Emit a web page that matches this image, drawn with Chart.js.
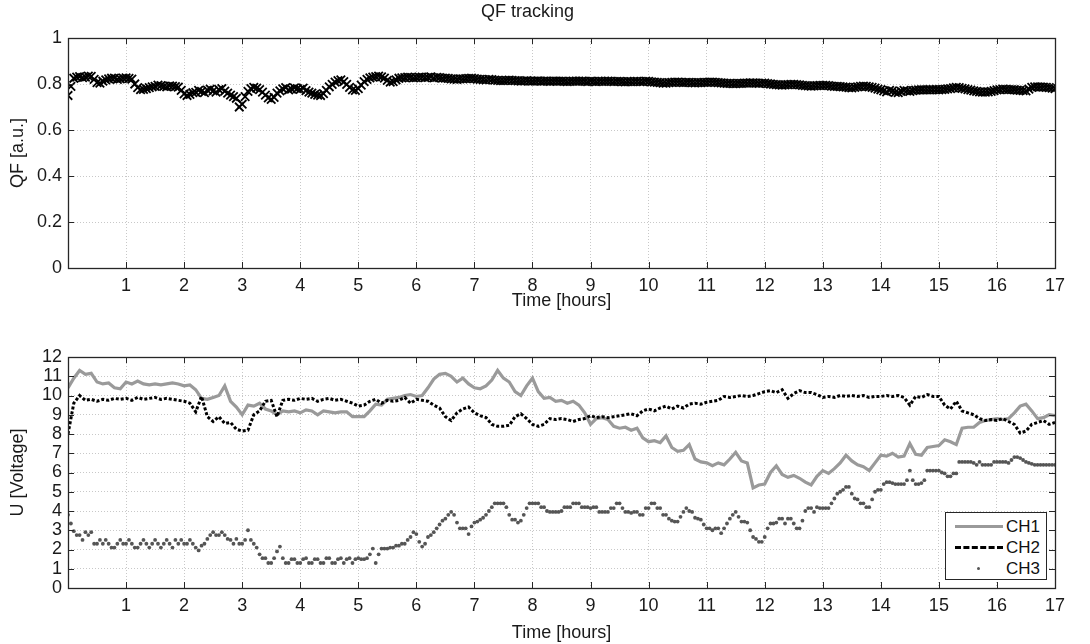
<!DOCTYPE html>
<html>
<head>
<meta charset="utf-8">
<script src="https://cdn.jsdelivr.net/npm/chart.js@4"></script>
<style>
  html, body { margin:0; padding:0; background:#ffffff; }
  body { width:1090px; height:644px; position:relative; overflow:hidden; font-family:"Liberation Sans", Arial, sans-serif; }
  #c1 { position:absolute; left:0; top:0; }
  #c2 { position:absolute; left:0; top:310px; }
  #legend { position:absolute; left:945px; top:512px; width:102px; height:68px; background:#fff; border:1px solid #262626; box-sizing:border-box; font-size:17px; color:#111; }
  .row { position:absolute; left:0; width:100%; height:21px; }
  .lab { position:absolute; right:6px; top:1px; line-height:19px; }
  .s1 { position:absolute; left:9px; width:48px; top:9px; border-top:3px solid #9a9a9a; }
  .s2 { position:absolute; left:9px; width:48px; top:9px; border-top:3px dashed #000000; }
  .s3 { position:absolute; left:31px; width:3px; height:3px; top:9px; border-radius:50%; background:#555555; }
</style>
</head>
<body>
<canvas id="c1" width="1090" height="314"></canvas>
<canvas id="c2" width="1090" height="334"></canvas>
<div id="legend">
  <div class="row" style="top:3px"><div class="s1"></div><span class="lab">CH1</span></div>
  <div class="row" style="top:24px"><div class="s2"></div><span class="lab">CH2</span></div>
  <div class="row" style="top:45px"><div class="s3"></div><span class="lab">CH3</span></div>
</div>
<script>
// ---- data ----
// sample times, 0.1 h grid (CH1, CH2)
const timeHours = [
 0,0.1,0.2,0.3,0.4,0.5,0.6,0.7,0.8,0.9,
 1,1.1,1.2,1.3,1.4,1.5,1.6,1.7,1.8,1.9,
 2,2.1,2.2,2.3,2.4,2.5,2.6,2.7,2.8,2.9,
 3,3.1,3.2,3.3,3.4,3.5,3.6,3.7,3.8,3.9,
 4,4.1,4.2,4.3,4.4,4.5,4.6,4.7,4.8,4.9,
 5,5.1,5.2,5.3,5.4,5.5,5.6,5.7,5.8,5.9,
 6,6.1,6.2,6.3,6.4,6.5,6.6,6.7,6.8,6.9,
 7,7.1,7.2,7.3,7.4,7.5,7.6,7.7,7.8,7.9,
 8,8.1,8.2,8.3,8.4,8.5,8.6,8.7,8.8,8.9,
 9,9.1,9.2,9.3,9.4,9.5,9.6,9.7,9.8,9.9,
 10,10.1,10.2,10.3,10.4,10.5,10.6,10.7,10.8,10.9,
 11,11.1,11.2,11.3,11.4,11.5,11.6,11.7,11.8,11.9,
 12,12.1,12.2,12.3,12.4,12.5,12.6,12.7,12.8,12.9,
 13,13.1,13.2,13.3,13.4,13.5,13.6,13.7,13.8,13.9,
 14,14.1,14.2,14.3,14.4,14.5,14.6,14.7,14.8,14.9,
 15,15.1,15.2,15.3,15.4,15.5,15.6,15.7,15.8,15.9,
 16,16.1,16.2,16.3,16.4,16.5,16.6,16.7,16.8,16.9,
 17
];

// sample times, 0.05 h grid (QF, CH3 markers)
const timeFine = [
 0,0.05,0.1,0.15,0.2,0.25,0.3,0.35,0.4,0.45,0.5,0.55,0.6,0.65,0.7,0.75,0.8,0.85,0.9,0.95,
 1,1.05,1.1,1.15,1.2,1.25,1.3,1.35,1.4,1.45,1.5,1.55,1.6,1.65,1.7,1.75,1.8,1.85,1.9,1.95,
 2,2.05,2.1,2.15,2.2,2.25,2.3,2.35,2.4,2.45,2.5,2.55,2.6,2.65,2.7,2.75,2.8,2.85,2.9,2.95,
 3,3.05,3.1,3.15,3.2,3.25,3.3,3.35,3.4,3.45,3.5,3.55,3.6,3.65,3.7,3.75,3.8,3.85,3.9,3.95,
 4,4.05,4.1,4.15,4.2,4.25,4.3,4.35,4.4,4.45,4.5,4.55,4.6,4.65,4.7,4.75,4.8,4.85,4.9,4.95,
 5,5.05,5.1,5.15,5.2,5.25,5.3,5.35,5.4,5.45,5.5,5.55,5.6,5.65,5.7,5.75,5.8,5.85,5.9,5.95,
 6,6.05,6.1,6.15,6.2,6.25,6.3,6.35,6.4,6.45,6.5,6.55,6.6,6.65,6.7,6.75,6.8,6.85,6.9,6.95,
 7,7.05,7.1,7.15,7.2,7.25,7.3,7.35,7.4,7.45,7.5,7.55,7.6,7.65,7.7,7.75,7.8,7.85,7.9,7.95,
 8,8.05,8.1,8.15,8.2,8.25,8.3,8.35,8.4,8.45,8.5,8.55,8.6,8.65,8.7,8.75,8.8,8.85,8.9,8.95,
 9,9.05,9.1,9.15,9.2,9.25,9.3,9.35,9.4,9.45,9.5,9.55,9.6,9.65,9.7,9.75,9.8,9.85,9.9,9.95,
 10,10.05,10.1,10.15,10.2,10.25,10.3,10.35,10.4,10.45,10.5,10.55,10.6,10.65,10.7,10.75,10.8,10.85,10.9,10.95,
 11,11.05,11.1,11.15,11.2,11.25,11.3,11.35,11.4,11.45,11.5,11.55,11.6,11.65,11.7,11.75,11.8,11.85,11.9,11.95,
 12,12.05,12.1,12.15,12.2,12.25,12.3,12.35,12.4,12.45,12.5,12.55,12.6,12.65,12.7,12.75,12.8,12.85,12.9,12.95,
 13,13.05,13.1,13.15,13.2,13.25,13.3,13.35,13.4,13.45,13.5,13.55,13.6,13.65,13.7,13.75,13.8,13.85,13.9,13.95,
 14,14.05,14.1,14.15,14.2,14.25,14.3,14.35,14.4,14.45,14.5,14.55,14.6,14.65,14.7,14.75,14.8,14.85,14.9,14.95,
 15,15.05,15.1,15.15,15.2,15.25,15.3,15.35,15.4,15.45,15.5,15.55,15.6,15.65,15.7,15.75,15.8,15.85,15.9,15.95,
 16,16.05,16.1,16.15,16.2,16.25,16.3,16.35,16.4,16.45,16.5,16.55,16.6,16.65,16.7,16.75,16.8,16.85,16.9,16.95,
 17
];

const qfValues = [
 0.750,0.790,0.825,0.830,0.832,0.828,0.830,0.834,0.833,0.820,0.806,0.804,0.812,0.818,0.822,0.825,0.826,0.820,0.822,0.826,
 0.827,0.824,0.821,0.800,0.784,0.776,0.777,0.780,0.784,0.788,0.790,0.795,0.793,0.790,0.788,0.792,0.791,0.789,0.786,0.772,
 0.757,0.750,0.755,0.762,0.764,0.772,0.768,0.762,0.773,0.778,0.770,0.765,0.776,0.780,0.769,0.760,0.752,0.745,0.738,0.700,
 0.712,0.745,0.768,0.780,0.785,0.782,0.776,0.765,0.752,0.740,0.733,0.742,0.760,0.770,0.779,0.784,0.774,0.778,0.783,0.780,
 0.777,0.782,0.771,0.765,0.760,0.755,0.752,0.750,0.758,0.772,0.788,0.798,0.808,0.815,0.818,0.810,0.798,0.785,0.774,0.772,
 0.780,0.795,0.810,0.820,0.827,0.830,0.832,0.834,0.831,0.826,0.816,0.808,0.810,0.818,0.825,0.827,0.828,0.830,0.829,0.827,
 0.828,0.830,0.830,0.828,0.829,0.831,0.827,0.829,0.828,0.826,0.826,0.824,0.822,0.821,0.820,0.822,0.822,0.823,0.824,0.825,
 0.823,0.821,0.820,0.819,0.818,0.820,0.819,0.817,0.816,0.815,0.815,0.816,0.817,0.816,0.815,0.814,0.813,0.814,0.815,0.813,
 0.812,0.813,0.814,0.812,0.813,0.812,0.811,0.812,0.813,0.812,0.812,0.811,0.810,0.811,0.812,0.813,0.813,0.812,0.811,0.810,
 0.812,0.811,0.810,0.811,0.811,0.812,0.812,0.811,0.810,0.811,0.811,0.810,0.809,0.810,0.810,0.811,0.811,0.810,0.810,0.812,
 0.811,0.809,0.808,0.807,0.806,0.804,0.804,0.806,0.807,0.808,0.808,0.807,0.806,0.807,0.807,0.806,0.805,0.806,0.806,0.807,
 0.807,0.808,0.808,0.807,0.806,0.805,0.804,0.803,0.803,0.802,0.802,0.803,0.803,0.804,0.804,0.805,0.805,0.804,0.803,0.804,
 0.804,0.802,0.800,0.798,0.797,0.796,0.795,0.796,0.797,0.798,0.798,0.797,0.796,0.794,0.793,0.792,0.791,0.792,0.793,0.794,
 0.794,0.794,0.793,0.791,0.790,0.790,0.789,0.787,0.786,0.784,0.783,0.785,0.788,0.790,0.791,0.790,0.788,0.785,0.782,0.778,
 0.775,0.770,0.766,0.772,0.770,0.764,0.762,0.768,0.772,0.770,0.768,0.771,0.773,0.774,0.775,0.774,0.774,0.775,0.776,0.776,
 0.775,0.776,0.777,0.779,0.780,0.783,0.785,0.784,0.781,0.779,0.776,0.773,0.770,0.768,0.766,0.765,0.765,0.766,0.768,0.771,
 0.774,0.776,0.778,0.777,0.776,0.776,0.775,0.773,0.772,0.771,0.770,0.778,0.785,0.788,0.788,0.787,0.786,0.785,0.784,0.782,
 0.780
];

const ch1Values = [
 10.4,10.9,11.3,11.1,11.15,10.7,10.6,10.65,10.4,10.35,
 10.7,10.6,10.75,10.6,10.55,10.6,10.55,10.6,10.65,10.6,
 10.5,10.55,10.3,9.85,9.8,9.9,10.0,10.5,9.7,9.4,
 9.0,9.5,9.45,9.6,9.3,9.2,9.0,9.2,9.15,9.2,
 9.1,9.25,9.2,9.0,9.2,9.15,9.1,9.15,9.15,8.9,
 8.9,8.9,9.2,9.55,9.5,9.8,9.85,9.9,10.0,10.05,
 9.95,10.0,10.4,10.85,11.1,11.15,11.0,10.7,10.9,10.6,
 10.4,10.35,10.5,10.8,11.3,10.9,10.7,10.2,10.0,10.5,
 10.9,10.2,9.85,9.9,9.7,9.75,9.6,9.7,9.5,9.1,
 8.5,8.8,8.85,8.75,8.4,8.3,8.35,8.2,8.3,7.8,
 7.6,7.65,7.55,7.9,7.3,7.1,7.15,7.45,6.7,6.55,
 6.5,6.35,6.5,6.4,6.7,7.05,6.6,6.5,5.2,5.35,
 5.4,6.0,6.35,5.9,5.75,5.85,5.7,5.5,5.35,5.8,
 6.1,5.95,6.2,6.5,6.9,6.6,6.4,6.3,6.1,6.5,
 6.9,6.85,7.0,6.8,6.85,7.5,6.95,6.9,7.3,7.35,
 7.4,7.7,7.6,7.45,8.3,8.35,8.35,8.6,8.7,8.75,
 8.8,8.75,8.8,9.1,9.45,9.55,9.2,8.8,8.85,9.0,
 8.95
];

const ch2Values = [
 8.0,9.6,10.0,9.75,9.8,9.7,9.8,9.75,9.85,9.8,
 9.85,9.75,9.9,9.8,9.85,9.9,9.8,9.85,9.8,9.75,
 9.7,9.6,9.15,9.95,8.9,8.65,8.9,8.55,8.6,8.25,
 8.15,8.2,9.0,9.2,9.7,9.75,8.9,9.75,9.8,9.75,
 9.85,9.8,9.85,9.7,9.8,9.85,9.75,9.8,9.7,9.6,
 9.45,9.5,9.7,9.8,9.6,9.75,9.7,9.75,9.9,9.6,
 9.8,9.75,9.7,9.5,9.35,8.9,8.7,9.1,9.3,9.4,
 9.1,8.95,8.85,8.5,8.4,8.4,8.45,8.9,9.05,8.8,
 8.5,8.4,8.5,8.8,8.75,8.8,8.75,8.65,8.75,8.8,
 8.95,8.85,8.9,8.85,8.9,8.95,9.0,9.05,8.95,9.2,
 9.3,9.2,9.35,9.45,9.3,9.45,9.35,9.55,9.6,9.55,
 9.65,9.7,9.75,9.95,9.9,9.95,10.0,9.95,10.0,10.1,
 10.2,10.25,10.15,10.3,9.85,10.1,10.25,10.15,10.15,10.05,
 9.9,9.95,9.9,10.0,9.95,10.0,9.95,10.0,9.9,9.95,
 9.95,10.0,9.95,10.0,9.9,9.5,9.95,9.9,10.05,9.95,
 9.95,9.5,9.3,9.7,9.2,9.1,9.0,8.8,8.7,8.75,
 8.7,8.8,8.65,8.5,8.05,8.15,8.5,8.6,8.7,8.5,
 8.6
];

const ch3Values = [
 3.8,3.35,2.95,2.75,2.75,2.5,2.9,2.75,2.9,2.3,2.3,2.5,2.3,2.5,2.3,2.1,2.1,2.3,2.5,2.3,
 2.3,2.5,2.3,2.1,2.1,2.3,2.5,2.3,2.1,2.3,2.5,2.3,2.1,2.3,2.5,2.3,2.1,2.5,2.3,2.5,
 2.3,2.3,2.5,2.3,2.1,1.95,2.2,2.3,2.55,2.75,2.9,2.75,2.75,2.9,2.75,2.55,2.5,2.3,2.55,2.3,
 2.3,2.5,3.0,2.5,2.3,2.1,1.75,1.55,1.55,1.3,1.3,1.55,1.9,2.15,1.55,1.3,1.3,1.5,1.5,1.3,
 1.3,1.5,1.55,1.3,1.3,1.5,1.5,1.3,1.3,1.55,1.55,1.3,1.3,1.5,1.55,1.3,1.5,1.55,1.3,1.5,
 1.55,1.5,1.5,1.55,1.75,2.05,1.3,1.75,2.05,2.05,2.05,2.1,2.1,2.2,2.2,2.3,2.3,2.5,2.65,2.9,
 2.8,2.4,2.15,2.3,2.65,2.75,2.9,3.1,3.3,3.5,3.6,3.8,3.95,3.8,3.4,3.1,3.1,3.1,2.8,3.2,
 3.4,3.45,3.55,3.65,3.8,4.0,4.2,4.4,4.4,4.4,4.4,4.2,3.8,3.55,3.55,3.4,3.5,3.8,4.15,4.4,
 4.4,4.4,4.4,4.2,4.2,4.0,3.95,3.95,3.95,3.95,4.0,4.2,4.2,4.2,4.4,4.4,4.4,4.2,4.2,4.2,
 4.15,4.2,4.2,3.95,3.95,3.95,3.95,4.15,4.15,4.4,4.4,4.15,3.95,3.95,3.9,3.95,3.95,3.8,3.8,4.15,
 4.15,4.4,4.4,4.15,4.15,3.8,3.8,3.6,3.5,3.45,3.45,3.7,3.95,4.15,4.0,3.95,3.65,3.6,3.55,3.3,
 3.1,3.1,3.0,3.1,3.1,2.85,3.1,3.35,3.6,3.8,3.95,3.7,3.45,3.45,3.4,3.0,2.65,2.55,2.4,2.4,
 2.65,3.1,3.35,3.35,3.4,3.6,3.6,3.35,3.6,3.6,3.35,3.1,3.1,3.5,4.0,4.15,4.15,3.95,4.2,4.15,
 4.15,4.15,4.15,4.4,4.65,4.9,5.0,5.1,5.25,5.25,4.9,4.65,4.6,4.4,4.4,4.2,4.2,4.6,5.0,5.1,
 5.1,5.4,5.5,5.5,5.45,5.4,5.4,5.4,5.4,5.6,6.1,5.6,5.4,5.4,5.45,5.6,6.1,6.1,6.1,6.1,
 6.1,6.0,5.95,5.8,5.8,5.95,5.95,6.55,6.55,6.55,6.55,6.55,6.5,6.4,6.55,6.4,6.4,6.4,6.4,6.55,
 6.55,6.55,6.55,6.55,6.5,6.65,6.8,6.8,6.75,6.65,6.55,6.5,6.45,6.4,6.4,6.4,6.4,6.4,6.4,6.4,
 6.4
];

const xTickMin = 0, xTickMax = 17;
const qfTickMin = 0, qfTickMax = 1, qfTickStep = 0.2;
const uTickMin = 0, uTickMax = 12, uTickStep = 1;

// ---- helpers ----
const FONT = '"Liberation Sans", Arial, Helvetica, sans-serif';
const TXT = '#1a1a1a';
const FS = 18;
const pts = (times, vals) => times.map((t, i) => ({ x: t, y: vals[i] }));

const matlabBox = {
  id: 'matlabBox',
  afterDatasetsDraw(chart) {
    const ctx = chart.ctx;
    const a = chart.chartArea;
    const xs = chart.scales.x, ys = chart.scales.y;
    ctx.save();
    ctx.strokeStyle = '#262626';
    ctx.lineWidth = 1;
    ctx.beginPath();
    const L = 6;
    xs.ticks.forEach(tk => {
      const px = Math.round(xs.getPixelForValue(tk.value)) + 0.5;
      ctx.moveTo(px, a.bottom); ctx.lineTo(px, a.bottom - L);
      ctx.moveTo(px, a.top); ctx.lineTo(px, a.top + L);
    });
    ys.ticks.forEach(tk => {
      const py = Math.round(ys.getPixelForValue(tk.value)) + 0.5;
      ctx.moveTo(a.left, py); ctx.lineTo(a.left + L, py);
      ctx.moveTo(a.right, py); ctx.lineTo(a.right - L, py);
    });
    ctx.stroke();
    ctx.lineWidth = 1.3;
    ctx.strokeRect(Math.round(a.left) + 0.5, Math.round(a.top) + 0.5,
                   Math.round(a.right - a.left), Math.round(a.bottom - a.top));
    ctx.restore();
  }
};

function xScale(heightPx, titlePadBottom) {
  return {
    type: 'linear', min: xTickMin, max: xTickMax,
    afterFit: s => { s.height = heightPx; },
    ticks: { stepSize: 1, color: TXT, padding: 7, font: { family: FONT, size: FS },
             maxRotation: 0, autoSkip: false,
             callback: v => (v === 0 ? '' : String(v)) },
    grid: { color: '#c8c8c8', lineWidth: 1, drawTicks: false },
    border: { display: false, dash: [1, 2] },
    title: { display: true, text: 'Time [hours]', color: TXT,
             font: { family: FONT, size: FS }, padding: { top: 0, bottom: titlePadBottom } }
  };
}
function yScale(min, max, step, title) {
  return {
    type: 'linear', min: min, max: max,
    afterFit: s => { s.width = 68; },
    ticks: { stepSize: step, color: TXT, padding: 6, font: { family: FONT, size: FS }, autoSkip: false,
             callback: v => String(parseFloat(Number(v).toFixed(2))) },
    grid: { color: '#c8c8c8', lineWidth: 1, drawTicks: false },
    border: { display: false, dash: [1, 2] },
    title: { display: true, text: title, color: TXT,
             font: { family: FONT, size: FS }, padding: { top: 7, bottom: 0 } }
  };
}

// ---- top chart: QF tracking ----
new Chart(document.getElementById('c1'), {
  type: 'scatter',
  data: {
    datasets: [{
      label: 'QF',
      data: pts(timeFine, qfValues),
      pointStyle: 'crossRot',
      pointRadius: 6,
      pointBorderWidth: 1.8,
      borderColor: '#000000',
      backgroundColor: '#000000',
      showLine: false
    }]
  },
  options: {
    responsive: false, animation: false,
    devicePixelRatio: 1,
    layout: { padding: { left: 0, right: 35, top: 0, bottom: 0 } },
    plugins: {
      legend: { display: false },
      tooltip: { enabled: false },
      title: { display: true, text: 'QF tracking', color: TXT,
               font: { family: FONT, size: FS, weight: 'normal', lineHeight: 1.2 },
               padding: { top: 1.5, bottom: 14.9 } }
    },
    scales: {
      x: xScale(46, 2),
      y: yScale(qfTickMin, qfTickMax, qfTickStep, 'QF [a.u.]')
    }
  },
  plugins: [matlabBox]
});

// ---- bottom chart: channel voltages ----
new Chart(document.getElementById('c2'), {
  type: 'scatter',
  data: {
    datasets: [
      { label: 'CH1', data: pts(timeHours, ch1Values), showLine: true, borderColor: '#9a9a9a',
        borderWidth: 3.2, pointRadius: 0, tension: 0, order: 3 },
      { label: 'CH2', data: pts(timeHours, ch2Values), showLine: true, borderColor: '#000000',
        borderWidth: 3, borderDash: [3, 2], pointRadius: 0, tension: 0, order: 2 },
      { label: 'CH3', data: pts(timeFine, ch3Values), showLine: false, pointStyle: 'circle',
        pointRadius: 1.9, pointBorderWidth: 0, backgroundColor: '#555555', borderColor: '#555555', order: 1 }
    ]
  },
  options: {
    responsive: false, animation: false,
    devicePixelRatio: 1,
    layout: { padding: { left: 0, right: 35, top: 47, bottom: 0 } },
    plugins: { legend: { display: false }, tooltip: { enabled: false } },
    scales: {
      x: xScale(56, 0.5),
      y: yScale(uTickMin, uTickMax, uTickStep, 'U [Voltage]')
    }
  },
  plugins: [matlabBox]
});
</script>
</body>
</html>
